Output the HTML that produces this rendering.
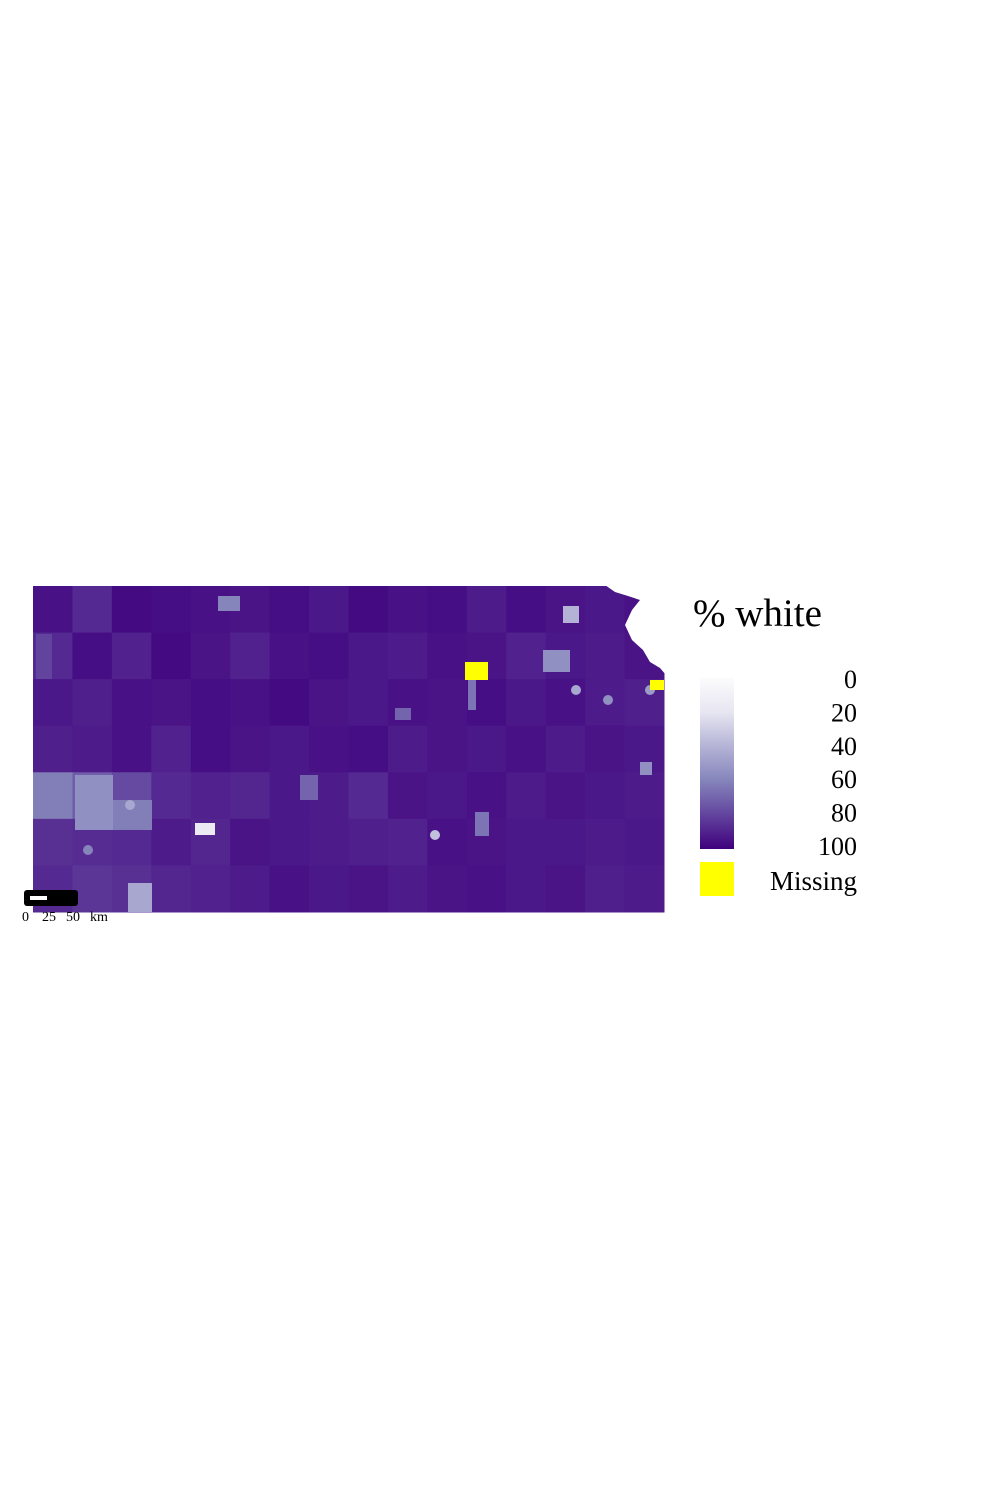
<!DOCTYPE html>
<html><head><meta charset="utf-8"><style>
body{margin:0;background:#fff;width:1000px;height:1500px;overflow:hidden;font-family:"Liberation Serif",serif}
svg{position:absolute;left:0;top:0}
</style></head><body>
<svg id="chart" width="1000" height="1500">
<g id="map"></g>
<g id="legend">
<text x="693" y="626" font-size="39">% white</text>
<defs><linearGradient id="grad" x1="0" y1="0" x2="0" y2="1">
<stop offset="0" stop-color="#fcfbfd"/><stop offset="0.2" stop-color="#e7e6f1"/><stop offset="0.4" stop-color="#b4b3d6"/><stop offset="0.6" stop-color="#8584bb"/><stop offset="0.8" stop-color="#62449e"/><stop offset="1" stop-color="#3f007d"/></linearGradient></defs>
<rect x="700" y="678" width="34" height="171" fill="url(#grad)"/>
<rect x="700" y="862" width="34" height="34" fill="#ffff00"/>
<g font-size="26" text-anchor="end" id="ticks"></g>
<text x="857" y="890" font-size="27" text-anchor="end">Missing</text>
</g>
<g>
<rect x="24" y="890" width="54" height="16" rx="3" fill="#000"/>
<rect x="30" y="896" width="17" height="4" fill="#fff"/>
<text x="22" y="921" font-size="14">0</text><text x="42" y="921" font-size="14">25</text><text x="66" y="921" font-size="14">50</text><text x="90" y="921" font-size="14">km</text>
</g>
</svg>
<script>
const tickLabels=["0","20","40","60","80","100"];
// per-county grid values (% white), rows top->bottom, cols west->east
const gridValues=[
[95,88,97,96,95,94,96,93,97,95,96,92,96,94,93,95],
[88,96,90,97,94,90,95,96,93,92,95,94,90,93,92,94],
[93,91,95,94,96,95,97,94,93,95,94,96,93,95,92,91],
[91,92,95,90,96,94,93,95,96,92,94,93,95,92,94,93],
[62,72,78,88,90,89,93,92,88,94,93,95,92,94,93,92],
[86,87,88,92,89,94,93,92,91,90,95,94,93,93,92,93],
[88,84,86,89,90,92,95,93,94,92,94,95,93,94,91,92]];
// notable patches: x,y,w,h (px on map) and value
const patchX=[75,113,128,195,563,543,218,640,468,300,475,395,36];
const patchY=[775,800,883,823,606,650,596,762,680,775,812,708,634];
const patchW=[38,39,24,20,16,27,22,12,8,18,14,16,16];
const patchH=[55,30,29,12,17,22,15,13,30,25,24,12,45];
const patchV=[55,62,45,15,40,55,60,55,65,70,65,70,80];
const cityX=[435,576,650,130,88,608];
const cityY=[835,690,690,805,850,700];
const cityV=[35,45,50,45,60,55];
const missingX=[465,650];
const missingY=[662,680];
const missingW=[23,14];
const missingH=[18,10];

function color(v){
  const stops=[[0,[252,251,253]],[20,[231,230,241]],[40,[180,179,214]],[60,[133,132,187]],[80,[98,68,158]],[100,[63,0,125]]];
  for(let i=1;i<stops.length;i++){ if(v<=stops[i][0]){const a=stops[i-1],b=stops[i],t=(v-a[0])/(b[0]-a[0]);
    return 'rgb('+a[1].map((c,k)=>Math.round(c+(b[1][k]-c)*t)).join(',')+')';}}
  return 'rgb(63,0,125)';
}
const NS='http://www.w3.org/2000/svg';
const map=document.getElementById('map');
const X0=33,Y0=586,X1=664,Y1=912;
function rect(x,y,w,h,f,name){const r=document.createElementNS(NS,'rect');
r.setAttribute('x',x);r.setAttribute('y',y);r.setAttribute('width',w);r.setAttribute('height',h);r.setAttribute('fill',f);


map.appendChild(r);}
const rows=gridValues.length,cols=gridValues[0].length,cw=(X1-X0)/cols,ch=(Y1-Y0)/rows;
gridValues.forEach((row,i)=>row.forEach((v,j)=>rect(X0+j*cw,Y0+i*ch,cw+0.5,ch+0.5,color(v),'county-cell')));
patchV.forEach((v,i)=>rect(patchX[i],patchY[i],patchW[i],patchH[i],color(v),'tract-patch'));
cityV.forEach((v,i)=>{const c=document.createElementNS(NS,'circle');c.setAttribute('cx',cityX[i]);c.setAttribute('cy',cityY[i]);c.setAttribute('r',5);c.setAttribute('fill',color(v));


map.appendChild(c);});
missingX.forEach((x,i)=>rect(x,missingY[i],missingW[i],missingH[i],'#ffff00','missing-tract'));
// NE corner cutout (Missouri river border)
const p=document.createElementNS(NS,'polygon');
p.setAttribute('points','605,585 666,585 666,675 660,668 650,662 643,650 632,640 625,625 632,610 640,600 628,596 615,592');
p.setAttribute('fill','#fff');


map.appendChild(p);
const tg=document.getElementById('ticks');
tickLabels.forEach((t,i)=>{const e=document.createElementNS(NS,'text');e.setAttribute('x',857);e.setAttribute('y',688+i*33.4);e.textContent=t;


tg.appendChild(e);});
</script>
</body></html>
